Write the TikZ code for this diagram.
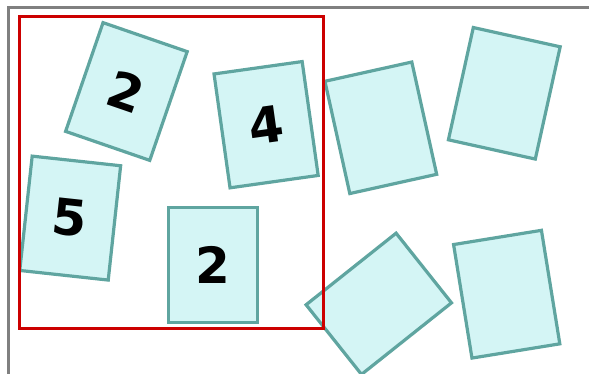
\documentclass[tikz,border=0pt]{standalone}
\usepackage{fontspec}
\setmainfont{DejaVu Sans}
\usepackage{xcolor}
\definecolor{cardfill}{RGB}{212,245,245}
\definecolor{carddraw}{RGB}{95,165,160}
\definecolor{selred}{RGB}{204,0,0}
\definecolor{framegray}{RGB}{128,128,128}

\begin{document}
\begin{tikzpicture}[
    x=1pt, y=1pt,
    card/.style={rectangle, draw=carddraw, fill=cardfill, line width=3.2pt,
        minimum width=89pt, minimum height=115pt, inner sep=0pt,
        font=\fontsize{50}{60}\selectfont\bfseries},
    frame/.style={draw=framegray, line width=3pt},
    selection/.style={draw=selred, line width=3pt}
]
    \useasboundingbox (0,0) rectangle (589,-374);
    \draw[frame] (8,-8) rectangle (600,-375);

    % cards inside the selection
    \node[card, rotate=-19] (cardA) at (126.4,-91.5) {2};
    \node[card, rotate=-6.2] (cardB) at (70.2,-218.1) {5};
    \node[card] (cardC) at (213.3,-264.7) {2};
    \node[card, rotate=8] (cardD) at (266.1,-124.7) {4};

    % cards outside the selection
    \node[card, rotate=12.5] (cardE) at (380.8,-127.8) {};
    \node[card, rotate=-12.5] (cardF) at (504.3,-93.3) {};
    \node[card, rotate=-51.5] (cardG) at (378.8,-303.8) {};
    \node[card, rotate=9.2] (cardH) at (506.7,-294.2) {};

    \draw[selection] (19,-17) rectangle (323.3,-328.3);
\end{tikzpicture}
\end{document}
